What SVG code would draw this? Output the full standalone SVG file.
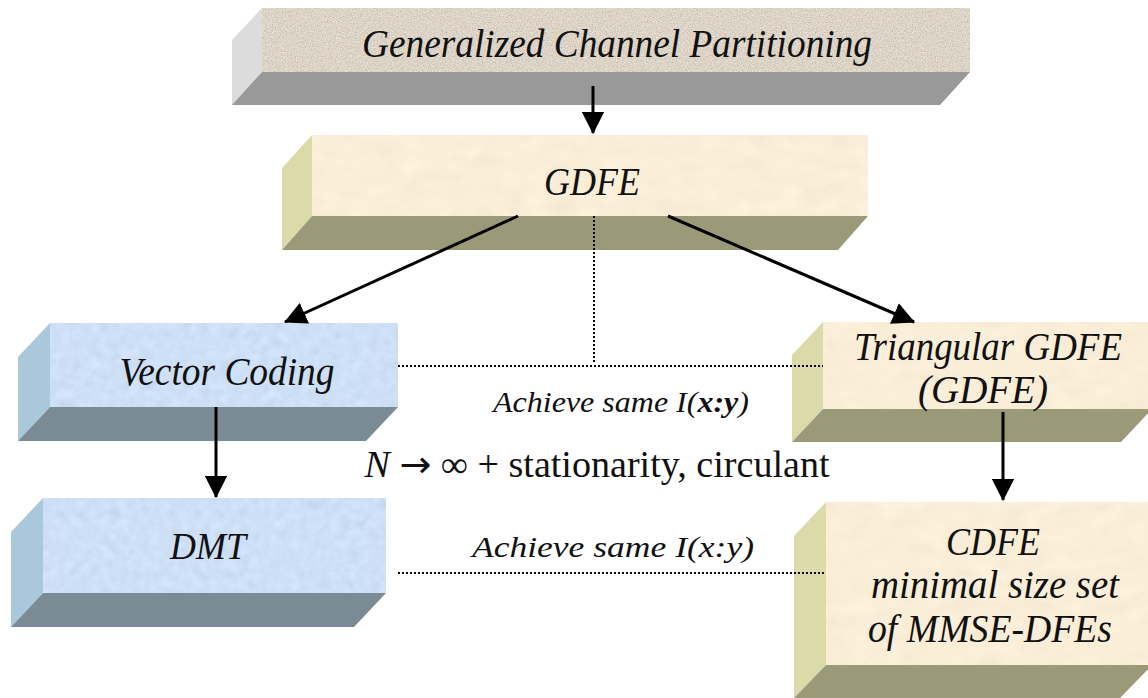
<svg xmlns="http://www.w3.org/2000/svg" width="1148" height="698" viewBox="0 0 1148 698">
  <defs>
    <style>
      .lbl { font-family: "Liberation Serif", "Times New Roman", serif; font-style: italic; fill: #111; text-anchor: middle; }
      .math { font-family: "Liberation Serif", "Times New Roman", serif; fill: #111; text-anchor: middle; }
      .sym { font-family: "DejaVu Sans", sans-serif; }
      .wire { stroke: #000; stroke-width: 3; fill: none; }
      .dots { stroke: #000; stroke-width: 2; stroke-dasharray: 2 2; fill: none; }
      /* granite slab */
      .g-front { fill: #ddd4c7; }
      .g-side { fill: #dcdcdc; }
      .g-bottom { fill: #999999; }
      /* cream slab */
      .c-front { fill: #faeed8; }
      .c-side { fill: #dcdaa9; }
      .c-bottom { fill: #9a9a78; }
      /* blue slab */
      .b-front { fill: #cee0f6; }
      .b-side { fill: #a9c8dc; }
      .b-bottom { fill: #7b8b96; }
    </style>
    <!-- surface grain: grey noise with opaque alpha, added around zero to the fill -->
    <filter id="granite" x="0" y="0" width="1" height="1">
      <feTurbulence type="fractalNoise" baseFrequency="0.8" numOctaves="3" seed="4" result="n"/>
      <feColorMatrix in="n" type="matrix" values="0.33 0.33 0.33 0 0  0.33 0.33 0.33 0 0  0.33 0.33 0.33 0 0  0 0 0 0 1" result="g"/>
      <feComposite in="SourceGraphic" in2="g" operator="arithmetic" k1="0" k2="1" k3="0.8" k4="-0.4" result="mix"/>
      <feComposite in="mix" in2="SourceGraphic" operator="in"/>
    </filter>
    <filter id="mottleCream" x="0" y="0" width="1" height="1">
      <feTurbulence type="fractalNoise" baseFrequency="0.04 0.07" numOctaves="4" seed="11" result="n"/>
      <feColorMatrix in="n" type="matrix" values="0.33 0.33 0.33 0 0  0.33 0.33 0.33 0 0  0.33 0.33 0.33 0 0  0 0 0 0 1" result="g"/>
      <feComposite in="SourceGraphic" in2="g" operator="arithmetic" k1="0" k2="1" k3="0.16" k4="-0.08" result="mix"/>
      <feComposite in="mix" in2="SourceGraphic" operator="in"/>
    </filter>
    <filter id="mottleBlue" x="0" y="0" width="1" height="1">
      <feTurbulence type="fractalNoise" baseFrequency="0.1" numOctaves="4" seed="2" result="n"/>
      <feColorMatrix in="n" type="matrix" values="0.33 0.33 0.33 0 0  0.33 0.33 0.33 0 0  0.33 0.33 0.33 0 0  0 0 0 0 1" result="g"/>
      <feComposite in="SourceGraphic" in2="g" operator="arithmetic" k1="0" k2="1" k3="0.25" k4="-0.125" result="mix"/>
      <feComposite in="mix" in2="SourceGraphic" operator="in"/>
    </filter>
    <marker id="head" viewBox="0 0 10 10" refX="9.5" refY="5" markerWidth="7.5" markerHeight="7.5" orient="auto" markerUnits="strokeWidth">
      <path d="M0,0 L10,5 L0,10 z" fill="#000"/>
    </marker>
  </defs>

  <rect width="1148" height="698" fill="#ffffff"/>

  <!-- Generalized Channel Partitioning -->
  <g id="node-gcp">
    <polygon class="g-side" points="262,8 232,40 232,105 262,72"/>
    <polygon class="g-bottom" points="262,72 970,72 940,105 232,105"/>
    <rect class="g-front" x="262" y="8" width="708" height="64" filter="url(#granite)"/>
    <text class="lbl" x="617" y="57" font-size="39" textLength="510" lengthAdjust="spacingAndGlyphs">Generalized Channel Partitioning</text>
  </g>

  <!-- GDFE -->
  <g id="node-gdfe">
    <polygon class="c-side" points="312,135 282,168 282,250 312,216"/>
    <polygon class="c-bottom" points="312,216 868,216 838,250 282,250"/>
    <rect class="c-front" x="312" y="135" width="556" height="81" filter="url(#mottleCream)"/>
    <text class="lbl" x="592" y="195" font-size="40" textLength="96" lengthAdjust="spacingAndGlyphs">GDFE</text>
  </g>

  <!-- Vector Coding -->
  <g id="node-vc">
    <polygon class="b-side" points="50,323 18,357 18,441 50,407"/>
    <polygon class="b-bottom" points="50,407 398,407 366,441 18,441"/>
    <rect class="b-front" x="50" y="323" width="348" height="84" filter="url(#mottleBlue)"/>
    <text class="lbl" x="227" y="385" font-size="40" textLength="215" lengthAdjust="spacingAndGlyphs">Vector Coding</text>
  </g>

  <!-- Triangular GDFE -->
  <g id="node-tgdfe">
    <polygon class="c-side" points="823,322 792,355 792,442 823,409"/>
    <polygon class="c-bottom" points="823,409 1152,409 1121,442 792,442"/>
    <rect class="c-front" x="823" y="322" width="329" height="87" filter="url(#mottleCream)"/>
    <text class="lbl" x="988" y="360" font-size="40" textLength="268" lengthAdjust="spacingAndGlyphs">Triangular GDFE</text>
    <text class="lbl" x="983" y="403" font-size="40" textLength="130" lengthAdjust="spacingAndGlyphs">(GDFE)</text>
  </g>

  <!-- DMT -->
  <g id="node-dmt">
    <polygon class="b-side" points="43,498 11,532 11,627 43,593"/>
    <polygon class="b-bottom" points="43,593 386,593 354,627 11,627"/>
    <rect class="b-front" x="43" y="498" width="343" height="95" filter="url(#mottleBlue)"/>
    <text class="lbl" x="208" y="559" font-size="37" textLength="76" lengthAdjust="spacingAndGlyphs">DMT</text>
  </g>

  <!-- CDFE -->
  <g id="node-cdfe">
    <polygon class="c-side" points="826,502 794,536 794,698 826,665"/>
    <polygon class="c-bottom" points="826,665 1152,665 1120,698 794,698"/>
    <rect class="c-front" x="826" y="502" width="326" height="163" filter="url(#mottleCream)"/>
    <text class="lbl" x="993" y="555" font-size="39" textLength="94" lengthAdjust="spacingAndGlyphs">CDFE</text>
    <text class="lbl" x="995" y="598" font-size="39" textLength="248" lengthAdjust="spacingAndGlyphs">minimal size set</text>
    <text class="lbl" x="990" y="642" font-size="39" textLength="244" lengthAdjust="spacingAndGlyphs">of MMSE-DFEs</text>
  </g>

  <!-- free-standing annotations -->
  <g id="notes">
    <text class="lbl" x="621" y="412" font-size="29" textLength="256" lengthAdjust="spacingAndGlyphs">Achieve same I(<tspan font-weight="bold">x:y</tspan>)</text>
    <text class="math" x="597" y="477" font-size="37" textLength="465" lengthAdjust="spacingAndGlyphs"><tspan font-style="italic">N</tspan> <tspan class="sym">→</tspan> ∞ + stationarity, circulant</text>
    <text class="lbl" x="613" y="557" font-size="29" textLength="282" lengthAdjust="spacingAndGlyphs">Achieve same I(x:y)</text>
  </g>

  <!-- connectors -->
  <g id="connectors">
    <line class="wire" x1="593" y1="86" x2="593" y2="133" marker-end="url(#head)"/>
    <line class="wire" x1="518" y1="216" x2="285" y2="322" marker-end="url(#head)"/>
    <line class="wire" x1="668" y1="216" x2="914" y2="322" marker-end="url(#head)"/>
    <line class="wire" x1="216" y1="407" x2="216" y2="497" marker-end="url(#head)"/>
    <line class="wire" x1="1003" y1="412" x2="1003" y2="500" marker-end="url(#head)"/>
    <line class="dots" x1="594" y1="216" x2="594" y2="364"/>
    <line class="dots" x1="398" y1="366" x2="823" y2="366"/>
    <line class="dots" x1="398" y1="573" x2="826" y2="573"/>
  </g>
</svg>
